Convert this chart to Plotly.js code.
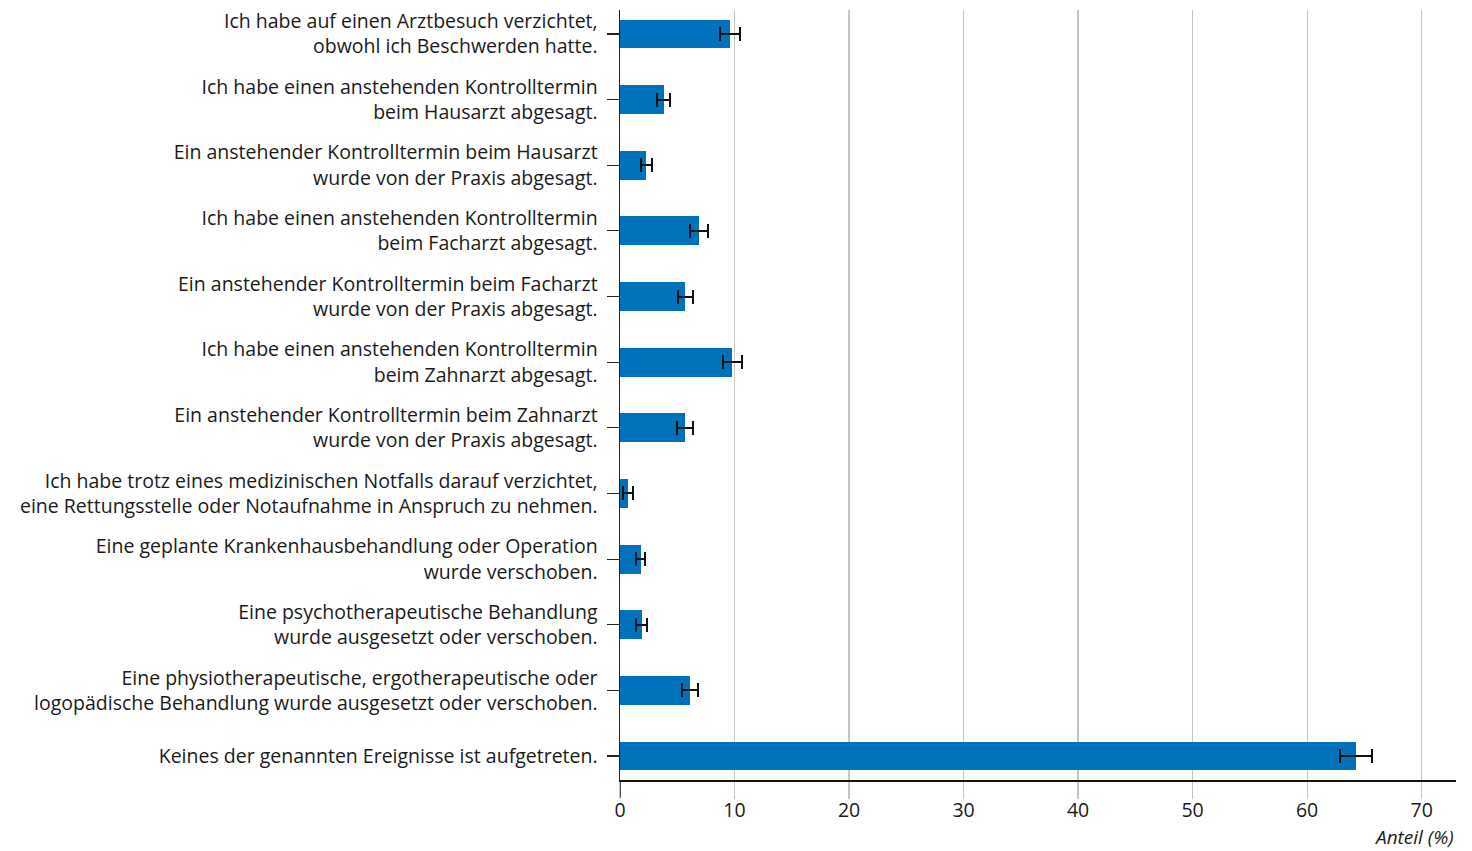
<!DOCTYPE html>
<html><head><meta charset="utf-8">
<script src="https://cdn.plot.ly/plotly-3.0.1.min.js"></script>
<style>html,body{margin:0;padding:0;background:#fff}#chart{width:1472px;height:851px}</style>
</head><body><div id="chart"></div>
<script>
const categories = [
  "Ich habe auf einen Arztbesuch verzichtet,<br>obwohl ich Beschwerden hatte.",
  "Ich habe einen anstehenden Kontrolltermin<br>beim Hausarzt abgesagt.",
  "Ein anstehender Kontrolltermin beim Hausarzt<br>wurde von der Praxis abgesagt.",
  "Ich habe einen anstehenden Kontrolltermin<br>beim Facharzt abgesagt.",
  "Ein anstehender Kontrolltermin beim Facharzt<br>wurde von der Praxis abgesagt.",
  "Ich habe einen anstehenden Kontrolltermin<br>beim Zahnarzt abgesagt.",
  "Ein anstehender Kontrolltermin beim Zahnarzt<br>wurde von der Praxis abgesagt.",
  "Ich habe trotz eines medizinischen Notfalls darauf verzichtet,<br>eine Rettungsstelle oder Notaufnahme in Anspruch zu nehmen.",
  "Eine geplante Krankenhausbehandlung oder Operation<br>wurde verschoben.",
  "Eine psychotherapeutische Behandlung<br>wurde ausgesetzt oder verschoben.",
  "Eine physiotherapeutische, ergotherapeutische oder<br>logopädische Behandlung wurde ausgesetzt oder verschoben.",
  "Keines der genannten Ereignisse ist aufgetreten."
];
const values = [9.6, 3.8, 2.3, 6.9, 5.7, 9.8, 5.7, 0.7, 1.8, 1.9, 6.1, 64.3];
const errors = [0.87, 0.57, 0.5, 0.75, 0.65, 0.83, 0.7, 0.45, 0.42, 0.5, 0.7, 1.4];
const xTicks = [0, 10, 20, 30, 40, 50, 60, 70];
const xTitle = "Anteil (%)";

const FONT = "Open Sans, Noto Sans, sans-serif";
const trace = {
  type: "bar", orientation: "h",
  y: categories, x: values,
  width: 0.44,
  marker: {color: "#0071bb"},
  error_x: {type: "data", array: errors, visible: true, color: "#111", thickness: 2, width: 7},
  hoverinfo: "x+y"
};
const layout = {
  width: 1472, height: 851,
  margin: {l: 620, r: 16, t: 10, b: 71},
  paper_bgcolor: "#fff", plot_bgcolor: "#fff",
  font: {family: FONT, size: 19.5, color: "#1a1a1a"},
  showlegend: false,
  bargap: 0,
  xaxis: {
    range: [0, 73], tickvals: xTicks, ticktext: xTicks.map(String),
    showgrid: true, gridcolor: "#c4c4c4", gridwidth: 1.2,
    zeroline: false,
    showline: true, linecolor: "#111", linewidth: 1.5,
    ticks: "outside", ticklen: 17, tickcolor: "#c4c4c4", tickwidth: 1.2,
    tickfont: {family: FONT, size: 19.5, color: "#1a1a1a"},
    ticklabelstandoff: -5,
    fixedrange: true
  },
  yaxis: {
    type: "category",
    range: [11.365, -0.365],
    showgrid: false, zeroline: false,
    showline: true, linecolor: "#222", linewidth: 1.5,
    ticks: "outside", ticklen: 12, tickcolor: "#222", tickwidth: 1.2,
    tickfont: {family: FONT, size: 19.5, color: "#1a1a1a"},
    ticklabelstandoff: 5,
    fixedrange: true
  },
  shapes: [{
    type: "line", xref: "x", yref: "paper",
    x0: 0, x1: 0, ysizemode: "pixel", yanchor: 0, y0: -17, y1: 0,
    line: {color: "#222", width: 1.5}
  }],
  annotations: [{
    text: xTitle, xref: "paper", yref: "paper", x: 1, y: 0,
    xanchor: "right", yanchor: "top", yshift: -42, showarrow: false,
    font: {family: FONT, size: 19, color: "#1a1a1a", style: "italic"}
  }]
};
Plotly.newPlot("chart", [trace], layout, {displayModeBar: false, staticPlot: true});
</script>
</body></html>
